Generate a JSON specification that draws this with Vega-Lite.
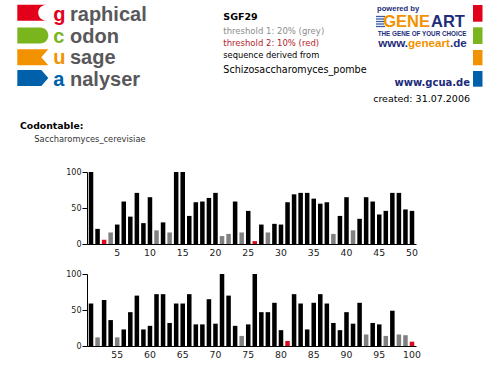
{
  "$schema": "https://vega.github.io/schema/vega-lite/v6.json",
  "background": "white",
  "padding": {"left": 17, "top": 0, "right": 17, "bottom": 0},
  "autosize": {"type": "pad"},
  "bounds": "flush",
  "spacing": 30,
  "config": {
    "view": {"stroke": null},
    "font": "DejaVu Sans",
    "axis": {"labelFont": "DejaVu Sans", "labelColor": "#222", "domainColor": "#000", "tickColor": "#000", "grid": false, "title": null}
  },
  "datasets": {
    "header": [{"title": "SGF29", "t1": "threshold 1: 20% (grey)", "t2": "threshold 2: 10% (red)", "derived": "sequence derived from", "organism": "Schizosaccharomyces_pombe", "site": "www.gcua.de", "created": "created: 31.07.2006", "codontable": "Codontable:", "table": "Saccharomyces_cerevisiae"}],
    "codons": [
      {"codon": 1, "usage": 100}, {"codon": 2, "usage": 21}, {"codon": 3, "usage": 6}, {"codon": 4, "usage": 16}, {"codon": 5, "usage": 27},
      {"codon": 6, "usage": 59}, {"codon": 7, "usage": 38}, {"codon": 8, "usage": 71}, {"codon": 9, "usage": 29}, {"codon": 10, "usage": 65},
      {"codon": 11, "usage": 19}, {"codon": 12, "usage": 30}, {"codon": 13, "usage": 16}, {"codon": 14, "usage": 100}, {"codon": 15, "usage": 100},
      {"codon": 16, "usage": 39}, {"codon": 17, "usage": 58}, {"codon": 18, "usage": 59}, {"codon": 19, "usage": 64}, {"codon": 20, "usage": 71},
      {"codon": 21, "usage": 11}, {"codon": 22, "usage": 14}, {"codon": 23, "usage": 59}, {"codon": 24, "usage": 16}, {"codon": 25, "usage": 46},
      {"codon": 26, "usage": 4}, {"codon": 27, "usage": 27}, {"codon": 28, "usage": 16}, {"codon": 29, "usage": 28}, {"codon": 30, "usage": 27},
      {"codon": 31, "usage": 58}, {"codon": 32, "usage": 69}, {"codon": 33, "usage": 71}, {"codon": 34, "usage": 71}, {"codon": 35, "usage": 63},
      {"codon": 36, "usage": 56}, {"codon": 37, "usage": 58}, {"codon": 38, "usage": 14}, {"codon": 39, "usage": 39}, {"codon": 40, "usage": 65},
      {"codon": 41, "usage": 19}, {"codon": 42, "usage": 35}, {"codon": 43, "usage": 65}, {"codon": 44, "usage": 59}, {"codon": 45, "usage": 41},
      {"codon": 46, "usage": 46}, {"codon": 47, "usage": 71}, {"codon": 48, "usage": 71}, {"codon": 49, "usage": 48}, {"codon": 50, "usage": 46},
      {"codon": 51, "usage": 59}, {"codon": 52, "usage": 12}, {"codon": 53, "usage": 64}, {"codon": 54, "usage": 36}, {"codon": 55, "usage": 12},
      {"codon": 56, "usage": 23}, {"codon": 57, "usage": 47}, {"codon": 58, "usage": 70}, {"codon": 59, "usage": 23}, {"codon": 60, "usage": 28},
      {"codon": 61, "usage": 72}, {"codon": 62, "usage": 72}, {"codon": 63, "usage": 32}, {"codon": 64, "usage": 59}, {"codon": 65, "usage": 59},
      {"codon": 66, "usage": 72}, {"codon": 67, "usage": 30}, {"codon": 68, "usage": 30}, {"codon": 69, "usage": 65}, {"codon": 70, "usage": 31},
      {"codon": 71, "usage": 100}, {"codon": 72, "usage": 70}, {"codon": 73, "usage": 28}, {"codon": 74, "usage": 14}, {"codon": 75, "usage": 30},
      {"codon": 76, "usage": 100}, {"codon": 77, "usage": 47}, {"codon": 78, "usage": 47}, {"codon": 79, "usage": 60}, {"codon": 80, "usage": 22},
      {"codon": 81, "usage": 7}, {"codon": 82, "usage": 72}, {"codon": 83, "usage": 59}, {"codon": 84, "usage": 23}, {"codon": 85, "usage": 60},
      {"codon": 86, "usage": 72}, {"codon": 87, "usage": 59}, {"codon": 88, "usage": 32}, {"codon": 89, "usage": 22}, {"codon": 90, "usage": 47},
      {"codon": 91, "usage": 31}, {"codon": 92, "usage": 60}, {"codon": 93, "usage": 16}, {"codon": 94, "usage": 32}, {"codon": 95, "usage": 30},
      {"codon": 96, "usage": 14}, {"codon": 97, "usage": 49}, {"codon": 98, "usage": 16}, {"codon": 99, "usage": 15}, {"codon": 100, "usage": 6}
    ]
  },
  "vconcat": [
    {
      "width": 329,
      "height": 142,
      "data": {"name": "header"},
      "layer": [
        {"mark": {"type": "point", "filled": true, "opacity": 1, "size": 961, "color": "#e2001a", "shape": "M-1,-0.516 L0.871,-0.516 C0.58,-0.516 0.35,-0.28 0.35,0 C0.35,0.28 0.58,0.516 0.871,0.516 L-1,0.516 Z"},
         "encoding": {"x": {"datum": 32.8, "type": "quantitative", "scale": {"domain": [87, 416], "nice": false, "zero": false}, "axis": null}, "y": {"datum": 12.8, "type": "quantitative", "scale": {"domain": [0, 142], "reverse": true, "nice": false, "zero": false}, "axis": null}}},
        {"mark": {"type": "point", "filled": true, "opacity": 1, "size": 961, "color": "#7ab51d", "shape": "M-1,-0.516 L0.484,-0.516 C0.769,-0.516 1,-0.285 1,0 C1,0.285 0.769,0.516 0.484,0.516 L-1,0.516 Z"},
         "encoding": {"x": {"datum": 32.8, "type": "quantitative", "scale": {"domain": [87, 416], "nice": false, "zero": false}, "axis": null}, "y": {"datum": 35.5, "type": "quantitative", "scale": {"domain": [0, 142], "reverse": true, "nice": false, "zero": false}, "axis": null}}},
        {"mark": {"type": "point", "filled": true, "opacity": 1, "size": 961, "color": "#f39200", "shape": "M-1,-0.516 L1,-0.516 L0.55,0 L1,0.516 L-1,0.516 Z"},
         "encoding": {"x": {"datum": 32.8, "type": "quantitative", "scale": {"domain": [87, 416], "nice": false, "zero": false}, "axis": null}, "y": {"datum": 57.3, "type": "quantitative", "scale": {"domain": [0, 142], "reverse": true, "nice": false, "zero": false}, "axis": null}}},
        {"mark": {"type": "point", "filled": true, "opacity": 1, "size": 961, "color": "#0060aa", "shape": "M-1,-0.516 L0.55,-0.516 L1,0 L0.55,0.516 L-1,0.516 Z"},
         "encoding": {"x": {"datum": 32.8, "type": "quantitative", "scale": {"domain": [87, 416], "nice": false, "zero": false}, "axis": null}, "y": {"datum": 78, "type": "quantitative", "scale": {"domain": [0, 142], "reverse": true, "nice": false, "zero": false}, "axis": null}}},
        {"mark": {"type": "text", "text": "g", "font": "Liberation Sans", "fontWeight": "bold", "fontSize": 20, "color": "#e2001a", "align": "left", "baseline": "alphabetic"},
         "encoding": {"x": {"datum": 53.3, "type": "quantitative", "scale": {"domain": [87, 416], "nice": false, "zero": false}, "axis": null}, "y": {"datum": 20.7, "type": "quantitative", "scale": {"domain": [0, 142], "reverse": true, "nice": false, "zero": false}, "axis": null}}},
        {"mark": {"type": "text", "text": "c", "font": "Liberation Sans", "fontWeight": "bold", "fontSize": 20, "color": "#7ab51d", "align": "left", "baseline": "alphabetic"},
         "encoding": {"x": {"datum": 53.3, "type": "quantitative", "scale": {"domain": [87, 416], "nice": false, "zero": false}, "axis": null}, "y": {"datum": 42.5, "type": "quantitative", "scale": {"domain": [0, 142], "reverse": true, "nice": false, "zero": false}, "axis": null}}},
        {"mark": {"type": "text", "text": "u", "font": "Liberation Sans", "fontWeight": "bold", "fontSize": 20, "color": "#f39200", "align": "left", "baseline": "alphabetic"},
         "encoding": {"x": {"datum": 53.3, "type": "quantitative", "scale": {"domain": [87, 416], "nice": false, "zero": false}, "axis": null}, "y": {"datum": 64, "type": "quantitative", "scale": {"domain": [0, 142], "reverse": true, "nice": false, "zero": false}, "axis": null}}},
        {"mark": {"type": "text", "text": "a", "font": "Liberation Sans", "fontWeight": "bold", "fontSize": 20, "color": "#0060aa", "align": "left", "baseline": "alphabetic"},
         "encoding": {"x": {"datum": 53.3, "type": "quantitative", "scale": {"domain": [87, 416], "nice": false, "zero": false}, "axis": null}, "y": {"datum": 85.5, "type": "quantitative", "scale": {"domain": [0, 142], "reverse": true, "nice": false, "zero": false}, "axis": null}}},
        {"mark": {"type": "text", "text": "raphical", "font": "Liberation Sans", "fontWeight": "bold", "fontSize": 20, "color": "#58585a", "align": "left", "baseline": "alphabetic"},
         "encoding": {"x": {"datum": 70, "type": "quantitative", "scale": {"domain": [87, 416], "nice": false, "zero": false}, "axis": null}, "y": {"datum": 20.7, "type": "quantitative", "scale": {"domain": [0, 142], "reverse": true, "nice": false, "zero": false}, "axis": null}}},
        {"mark": {"type": "text", "text": "odon", "font": "Liberation Sans", "fontWeight": "bold", "fontSize": 20, "color": "#58585a", "align": "left", "baseline": "alphabetic"},
         "encoding": {"x": {"datum": 70, "type": "quantitative", "scale": {"domain": [87, 416], "nice": false, "zero": false}, "axis": null}, "y": {"datum": 42.5, "type": "quantitative", "scale": {"domain": [0, 142], "reverse": true, "nice": false, "zero": false}, "axis": null}}},
        {"mark": {"type": "text", "text": "sage", "font": "Liberation Sans", "fontWeight": "bold", "fontSize": 20, "color": "#58585a", "align": "left", "baseline": "alphabetic"},
         "encoding": {"x": {"datum": 70, "type": "quantitative", "scale": {"domain": [87, 416], "nice": false, "zero": false}, "axis": null}, "y": {"datum": 64, "type": "quantitative", "scale": {"domain": [0, 142], "reverse": true, "nice": false, "zero": false}, "axis": null}}},
        {"mark": {"type": "text", "text": "nalyser", "font": "Liberation Sans", "fontWeight": "bold", "fontSize": 20, "color": "#58585a", "align": "left", "baseline": "alphabetic"},
         "encoding": {"x": {"datum": 70, "type": "quantitative", "scale": {"domain": [87, 416], "nice": false, "zero": false}, "axis": null}, "y": {"datum": 85.5, "type": "quantitative", "scale": {"domain": [0, 142], "reverse": true, "nice": false, "zero": false}, "axis": null}}},
        {"mark": {"type": "text", "font": "DejaVu Sans", "fontWeight": "bold", "fontSize": 9.5, "color": "#000", "align": "left", "baseline": "alphabetic"},
         "encoding": {"text": {"field": "title"}, "x": {"datum": 223.3, "type": "quantitative", "scale": {"domain": [87, 416], "nice": false, "zero": false}, "axis": null}, "y": {"datum": 19.7, "type": "quantitative", "scale": {"domain": [0, 142], "reverse": true, "nice": false, "zero": false}, "axis": null}}},
        {"mark": {"type": "text", "font": "DejaVu Sans", "fontSize": 8.5, "color": "#8c8c8c", "align": "left", "baseline": "alphabetic"},
         "encoding": {"text": {"field": "t1"}, "x": {"datum": 223.3, "type": "quantitative", "scale": {"domain": [87, 416], "nice": false, "zero": false}, "axis": null}, "y": {"datum": 34, "type": "quantitative", "scale": {"domain": [0, 142], "reverse": true, "nice": false, "zero": false}, "axis": null}}},
        {"mark": {"type": "text", "font": "DejaVu Sans", "fontSize": 8.5, "color": "#b3262d", "align": "left", "baseline": "alphabetic"},
         "encoding": {"text": {"field": "t2"}, "x": {"datum": 223.3, "type": "quantitative", "scale": {"domain": [87, 416], "nice": false, "zero": false}, "axis": null}, "y": {"datum": 46, "type": "quantitative", "scale": {"domain": [0, 142], "reverse": true, "nice": false, "zero": false}, "axis": null}}},
        {"mark": {"type": "text", "font": "DejaVu Sans", "fontSize": 8.3, "color": "#000", "align": "left", "baseline": "alphabetic"},
         "encoding": {"text": {"field": "derived"}, "x": {"datum": 223.3, "type": "quantitative", "scale": {"domain": [87, 416], "nice": false, "zero": false}, "axis": null}, "y": {"datum": 58, "type": "quantitative", "scale": {"domain": [0, 142], "reverse": true, "nice": false, "zero": false}, "axis": null}}},
        {"mark": {"type": "text", "font": "DejaVu Sans", "fontSize": 9.6, "color": "#000", "align": "left", "baseline": "alphabetic"},
         "encoding": {"text": {"field": "organism"}, "x": {"datum": 223.3, "type": "quantitative", "scale": {"domain": [87, 416], "nice": false, "zero": false}, "axis": null}, "y": {"datum": 72.5, "type": "quantitative", "scale": {"domain": [0, 142], "reverse": true, "nice": false, "zero": false}, "axis": null}}},
        {"mark": {"type": "text", "text": "powered by", "font": "Liberation Sans", "fontWeight": "bold", "fontSize": 7.6, "color": "#1d2d7a", "align": "left", "baseline": "alphabetic"},
         "encoding": {"x": {"datum": 377, "type": "quantitative", "scale": {"domain": [87, 416], "nice": false, "zero": false}, "axis": null}, "y": {"datum": 10.8, "type": "quantitative", "scale": {"domain": [0, 142], "reverse": true, "nice": false, "zero": false}, "axis": null}}},
        {"mark": {"type": "rule", "color": "#3b5ba5", "strokeWidth": 1.3},
         "encoding": {"x": {"datum": 376, "type": "quantitative", "scale": {"domain": [87, 416], "nice": false, "zero": false}, "axis": null}, "x2": {"datum": 385}, "y": {"datum": 16.5, "type": "quantitative", "scale": {"domain": [0, 142], "reverse": true, "nice": false, "zero": false}, "axis": null}}},
        {"mark": {"type": "rule", "color": "#3b5ba5", "strokeWidth": 1.3},
         "encoding": {"x": {"datum": 376, "type": "quantitative", "scale": {"domain": [87, 416], "nice": false, "zero": false}, "axis": null}, "x2": {"datum": 384}, "y": {"datum": 19, "type": "quantitative", "scale": {"domain": [0, 142], "reverse": true, "nice": false, "zero": false}, "axis": null}}},
        {"mark": {"type": "rule", "color": "#3b5ba5", "strokeWidth": 1.3},
         "encoding": {"x": {"datum": 376, "type": "quantitative", "scale": {"domain": [87, 416], "nice": false, "zero": false}, "axis": null}, "x2": {"datum": 384}, "y": {"datum": 21.5, "type": "quantitative", "scale": {"domain": [0, 142], "reverse": true, "nice": false, "zero": false}, "axis": null}}},
        {"mark": {"type": "rule", "color": "#3b5ba5", "strokeWidth": 1.3},
         "encoding": {"x": {"datum": 376, "type": "quantitative", "scale": {"domain": [87, 416], "nice": false, "zero": false}, "axis": null}, "x2": {"datum": 384}, "y": {"datum": 24, "type": "quantitative", "scale": {"domain": [0, 142], "reverse": true, "nice": false, "zero": false}, "axis": null}}},
        {"mark": {"type": "rule", "color": "#3b5ba5", "strokeWidth": 1.3},
         "encoding": {"x": {"datum": 376, "type": "quantitative", "scale": {"domain": [87, 416], "nice": false, "zero": false}, "axis": null}, "x2": {"datum": 385}, "y": {"datum": 26.5, "type": "quantitative", "scale": {"domain": [0, 142], "reverse": true, "nice": false, "zero": false}, "axis": null}}},
        {"mark": {"type": "text", "text": "GENE", "font": "Liberation Sans", "fontWeight": "bold", "fontSize": 16.5, "color": "#f39200", "align": "right", "baseline": "alphabetic"},
         "encoding": {"x": {"datum": 430, "type": "quantitative", "scale": {"domain": [87, 416], "nice": false, "zero": false}, "axis": null}, "y": {"datum": 27, "type": "quantitative", "scale": {"domain": [0, 142], "reverse": true, "nice": false, "zero": false}, "axis": null}}},
        {"mark": {"type": "text", "text": "ART", "font": "Liberation Sans", "fontWeight": "bold", "fontSize": 16.5, "color": "#1d2d7a", "align": "left", "baseline": "alphabetic"},
         "encoding": {"x": {"datum": 431, "type": "quantitative", "scale": {"domain": [87, 416], "nice": false, "zero": false}, "axis": null}, "y": {"datum": 27, "type": "quantitative", "scale": {"domain": [0, 142], "reverse": true, "nice": false, "zero": false}, "axis": null}}},
        {"mark": {"type": "text", "text": "THE GENE OF YOUR CHOICE", "font": "Liberation Sans", "fontWeight": "bold", "fontSize": 6.3, "color": "#1d2d7a", "align": "left", "baseline": "alphabetic"},
         "encoding": {"x": {"datum": 377.7, "type": "quantitative", "scale": {"domain": [87, 416], "nice": false, "zero": false}, "axis": null}, "y": {"datum": 35.6, "type": "quantitative", "scale": {"domain": [0, 142], "reverse": true, "nice": false, "zero": false}, "axis": null}}},
        {"mark": {"type": "text", "text": "www.", "font": "Liberation Sans", "fontWeight": "bold", "fontSize": 11.6, "color": "#1d2d7a", "align": "right", "baseline": "alphabetic"},
         "encoding": {"x": {"datum": 408, "type": "quantitative", "scale": {"domain": [87, 416], "nice": false, "zero": false}, "axis": null}, "y": {"datum": 46.8, "type": "quantitative", "scale": {"domain": [0, 142], "reverse": true, "nice": false, "zero": false}, "axis": null}}},
        {"mark": {"type": "text", "text": "geneart", "font": "Liberation Sans", "fontWeight": "bold", "fontSize": 11.6, "color": "#f39200", "align": "left", "baseline": "alphabetic"},
         "encoding": {"x": {"datum": 408, "type": "quantitative", "scale": {"domain": [87, 416], "nice": false, "zero": false}, "axis": null}, "y": {"datum": 46.8, "type": "quantitative", "scale": {"domain": [0, 142], "reverse": true, "nice": false, "zero": false}, "axis": null}}},
        {"mark": {"type": "text", "text": ".de", "font": "Liberation Sans", "fontWeight": "bold", "fontSize": 11.6, "color": "#1d2d7a", "align": "right", "baseline": "alphabetic"},
         "encoding": {"x": {"datum": 466.7, "type": "quantitative", "scale": {"domain": [87, 416], "nice": false, "zero": false}, "axis": null}, "y": {"datum": 46.8, "type": "quantitative", "scale": {"domain": [0, 142], "reverse": true, "nice": false, "zero": false}, "axis": null}}},
        {"mark": {"type": "rect", "color": "#e2001a"},
         "encoding": {"x": {"datum": 473, "type": "quantitative", "scale": {"domain": [87, 416], "nice": false, "zero": false}, "axis": null}, "x2": {"datum": 482.5}, "y": {"datum": 5, "type": "quantitative", "scale": {"domain": [0, 142], "reverse": true, "nice": false, "zero": false}, "axis": null}, "y2": {"datum": 21.7}}},
        {"mark": {"type": "rect", "color": "#7ab51d"},
         "encoding": {"x": {"datum": 473, "type": "quantitative", "scale": {"domain": [87, 416], "nice": false, "zero": false}, "axis": null}, "x2": {"datum": 482.5}, "y": {"datum": 27.3, "type": "quantitative", "scale": {"domain": [0, 142], "reverse": true, "nice": false, "zero": false}, "axis": null}, "y2": {"datum": 44}}},
        {"mark": {"type": "rect", "color": "#f39200"},
         "encoding": {"x": {"datum": 473, "type": "quantitative", "scale": {"domain": [87, 416], "nice": false, "zero": false}, "axis": null}, "x2": {"datum": 482.5}, "y": {"datum": 50, "type": "quantitative", "scale": {"domain": [0, 142], "reverse": true, "nice": false, "zero": false}, "axis": null}, "y2": {"datum": 65.3}}},
        {"mark": {"type": "rect", "color": "#0060aa"},
         "encoding": {"x": {"datum": 473, "type": "quantitative", "scale": {"domain": [87, 416], "nice": false, "zero": false}, "axis": null}, "x2": {"datum": 482.5}, "y": {"datum": 71, "type": "quantitative", "scale": {"domain": [0, 142], "reverse": true, "nice": false, "zero": false}, "axis": null}, "y2": {"datum": 86.7}}},
        {"mark": {"type": "text", "font": "DejaVu Sans", "fontWeight": "bold", "fontSize": 10, "color": "#1b2a7a", "align": "right", "baseline": "alphabetic"},
         "encoding": {"text": {"field": "site"}, "x": {"datum": 470, "type": "quantitative", "scale": {"domain": [87, 416], "nice": false, "zero": false}, "axis": null}, "y": {"datum": 86, "type": "quantitative", "scale": {"domain": [0, 142], "reverse": true, "nice": false, "zero": false}, "axis": null}}},
        {"mark": {"type": "text", "font": "DejaVu Sans", "fontSize": 9.5, "color": "#000", "align": "right", "baseline": "alphabetic"},
         "encoding": {"text": {"field": "created"}, "x": {"datum": 470, "type": "quantitative", "scale": {"domain": [87, 416], "nice": false, "zero": false}, "axis": null}, "y": {"datum": 101.5, "type": "quantitative", "scale": {"domain": [0, 142], "reverse": true, "nice": false, "zero": false}, "axis": null}}},
        {"mark": {"type": "text", "font": "DejaVu Sans", "fontWeight": "bold", "fontSize": 9.3, "color": "#000", "align": "left", "baseline": "alphabetic"},
         "encoding": {"text": {"field": "codontable"}, "x": {"datum": 20, "type": "quantitative", "scale": {"domain": [87, 416], "nice": false, "zero": false}, "axis": null}, "y": {"datum": 128.7, "type": "quantitative", "scale": {"domain": [0, 142], "reverse": true, "nice": false, "zero": false}, "axis": null}}},
        {"mark": {"type": "text", "font": "DejaVu Sans", "fontSize": 8.3, "color": "#333", "align": "left", "baseline": "alphabetic"},
         "encoding": {"text": {"field": "table"}, "x": {"datum": 34.3, "type": "quantitative", "scale": {"domain": [87, 416], "nice": false, "zero": false}, "axis": null}, "y": {"datum": 142.3, "type": "quantitative", "scale": {"domain": [0, 142], "reverse": true, "nice": false, "zero": false}, "axis": null}}}
      ]
    },
    {
      "width": 329,
      "height": 72,
      "data": {"name": "codons"},
      "transform": [{"filter": "datum.codon <= 50"}],
      "mark": {"type": "bar"},
      "encoding": {
        "x": {"field": "codon", "type": "ordinal", "scale": {"paddingInner": 0.31, "paddingOuter": 0.266},
              "axis": {"values": [5, 10, 15, 20, 25, 30, 35, 40, 45, 50], "labelAngle": 0, "ticks": false, "labelPadding": 4, "labelFontSize": 9.3, "labelDx": 2, "labelOverlap": false}},
        "y": {"field": "usage", "type": "quantitative", "scale": {"domain": [0, 100]},
              "axis": {"values": [0, 50, 100], "tickSize": 5, "labelPadding": 1, "labelFontSize": 8}},
        "color": {"field": "usage", "type": "quantitative", "scale": {"type": "threshold", "domain": [10, 20], "range": ["#dc0a1e", "#808080", "#000000"]}, "legend": null}
      }
    },
    {
      "width": 329,
      "height": 72,
      "data": {"name": "codons"},
      "transform": [{"filter": "datum.codon > 50"}],
      "mark": {"type": "bar"},
      "encoding": {
        "x": {"field": "codon", "type": "ordinal", "scale": {"paddingInner": 0.31, "paddingOuter": 0.266},
              "axis": {"values": [55, 60, 65, 70, 75, 80, 85, 90, 95, 100], "labelAngle": 0, "ticks": false, "labelPadding": 4, "labelFontSize": 9.3, "labelDx": 2, "labelOverlap": false}},
        "y": {"field": "usage", "type": "quantitative", "scale": {"domain": [0, 100]},
              "axis": {"values": [0, 50, 100], "tickSize": 5, "labelPadding": 1, "labelFontSize": 8}},
        "color": {"field": "usage", "type": "quantitative", "scale": {"type": "threshold", "domain": [10, 20], "range": ["#dc0a1e", "#808080", "#000000"]}, "legend": null}
      }
    }
  ]
}
